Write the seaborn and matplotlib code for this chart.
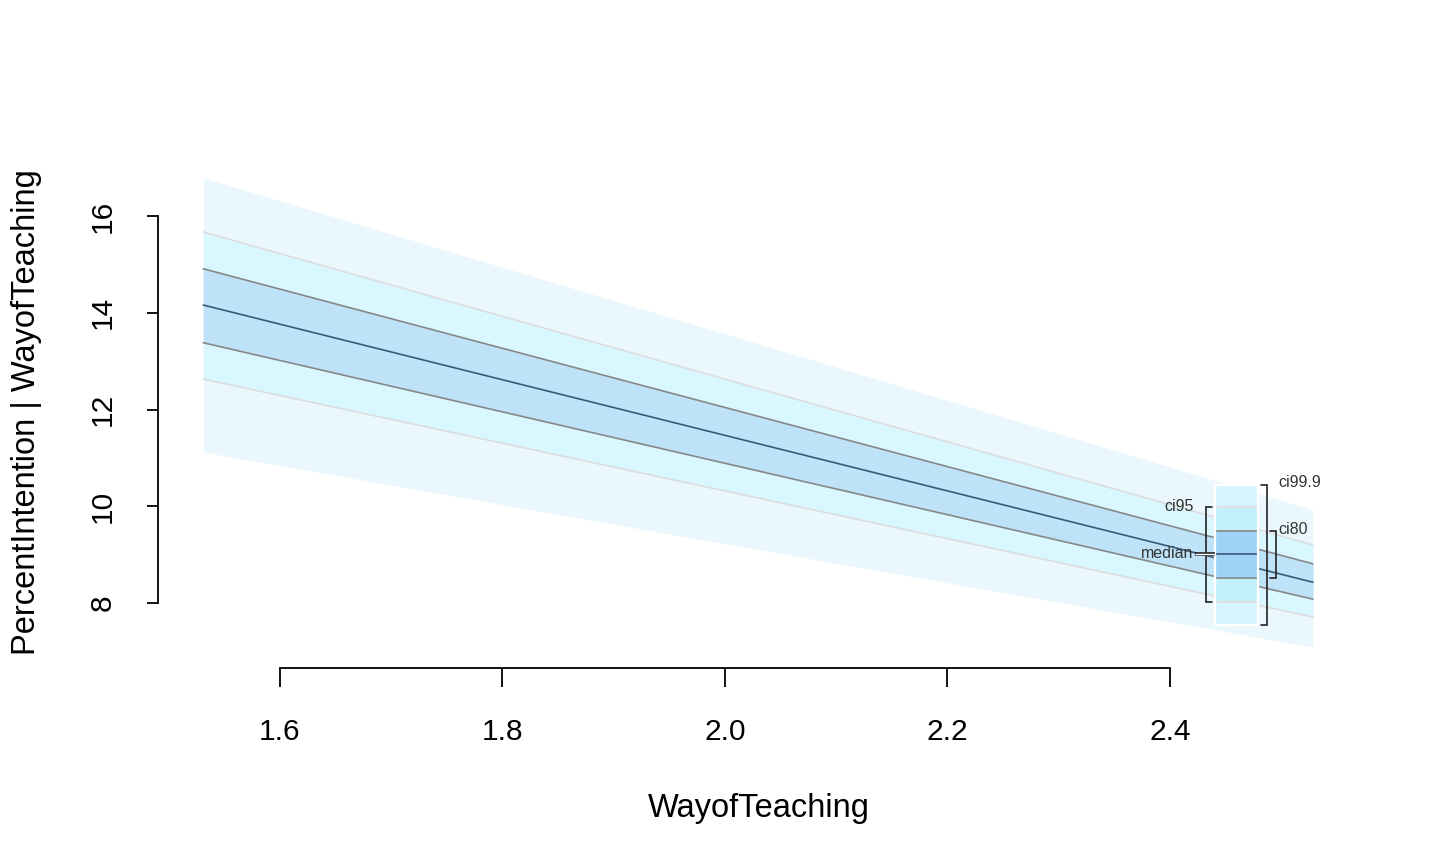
import numpy as np
import pandas as pd
import matplotlib
matplotlib.use('Agg')
import matplotlib.pyplot as plt
import seaborn as sns

# Conditional prediction: PercentIntention | WayofTeaching
way_of_teaching = [1.531, 2.5285]
median = [14.16, 8.43]
ci80_lo = [13.38, 8.08]
ci80_hi = [14.91, 8.81]
ci95_lo = [12.63, 7.71]
ci95_hi = [15.67, 9.20]
ci999_lo = [11.12, 7.09]
ci999_hi = [16.79, 9.93]

x_ticks = [1.6, 1.8, 2.0, 2.2, 2.4]
y_ticks = [8, 10, 12, 14, 16]

# legend glyph quantiles (drawn as a little box near the right edge)
leg_vals = {'ci999': (7.55, 10.44), 'ci95': (8.02, 9.98), 'ci80': (8.52, 9.49), 'median': 9.02}

df = pd.DataFrame({'x': way_of_teaching, 'median': median,
                   'lo80': ci80_lo, 'hi80': ci80_hi,
                   'lo95': ci95_lo, 'hi95': ci95_hi,
                   'lo999': ci999_lo, 'hi999': ci999_hi})

sns.set_style('white')
plt.rcParams['font.family'] = ['Liberation Sans', 'DejaVu Sans']

# colours
c999 = '#eaf8fe'
c95 = '#d8f7ff'
c80 = '#bee2f8'
line95 = '#dddddd'
line80 = '#888888'
line_med = '#38597a'

fig = plt.figure(figsize=(14.4, 8.64), dpi=100)
ax = fig.add_axes([158 / 1440, 196 / 864, 1172 / 1440, 498 / 864])

# bands
ax.fill_between(df['x'], df['lo999'], df['hi999'], color=c999, lw=0)
ax.fill_between(df['x'], df['lo95'], df['hi95'], color=c95, lw=0)
ax.fill_between(df['x'], df['lo80'], df['hi80'], color=c80, lw=0)

# band edges + median
for col, colr in [('lo95', line95), ('hi95', line95), ('lo80', line80), ('hi80', line80), ('median', line_med)]:
    sns.lineplot(data=df, x='x', y=col, ax=ax, color=colr, lw=1.2)

# legend glyph
bx0, bx1 = 2.4404, 2.4791
lo, hi = leg_vals['ci999']
ax.fill_between([bx0, bx1], lo, hi, color='#d6f4fd', lw=0, zorder=5)
lo, hi = leg_vals['ci95']
ax.fill_between([bx0, bx1], lo, hi, color='#c2f1fc', lw=0, zorder=5)
lo, hi = leg_vals['ci80']
ax.fill_between([bx0, bx1], lo, hi, color='#9fd3f5', lw=0, zorder=5)
for v in leg_vals['ci95']:
    ax.plot([bx0, bx1], [v, v], color=line95, lw=1.2, zorder=6)
for v in leg_vals['ci80']:
    ax.plot([bx0, bx1], [v, v], color=line80, lw=1.2, zorder=6)
ax.plot([bx0, bx1], [leg_vals['median']] * 2, color=line_med, lw=1.2, zorder=6)
lo, hi = leg_vals['ci999']
ax.add_patch(plt.Rectangle((bx0, lo), bx1 - bx0, hi - lo, fill=False, ec='white', lw=1.6, zorder=7))

# brackets
bc = '#222222'
def bracket(x, arm, lo, hi):
    ax.plot([x + arm, x, x, x + arm], [lo, lo, hi, hi], color=bc, lw=1.2, zorder=7, solid_joinstyle='miter')

lo, hi = leg_vals['ci95']
bracket(2.4324, 0.0055, lo, hi)
lo, hi = leg_vals['ci999']
bracket(2.4872, -0.0055, lo, hi)
lo, hi = leg_vals['ci80']
bracket(2.4953, -0.0055, lo, hi)

# median pointer
ax.plot([2.4228, bx0], [leg_vals['median']] * 2, color=bc, lw=2.6, zorder=7, solid_capstyle='butt')
ax.plot([2.4228, bx0], [leg_vals['median']] * 2, color='white', lw=1.0, zorder=8, solid_capstyle='butt')

tc = '#333333'
fs_leg = 11.5
ax.text(2.4210, leg_vals['ci95'][1] + 0.02, 'ci95', ha='right', va='center', fontsize=fs_leg, color=tc, zorder=8)
ax.text(2.4210, leg_vals['median'], 'median', ha='right', va='center', fontsize=fs_leg, color=tc, zorder=8)
ax.text(2.4975, leg_vals['ci999'][1] + 0.05, 'ci99.9', ha='left', va='center', fontsize=fs_leg, color=tc, zorder=8)
ax.text(2.4975, leg_vals['ci80'][1] + 0.02, 'ci80', ha='left', va='center', fontsize=fs_leg, color=tc, zorder=8)

# axes in base-R style
ax.set_xlim(1.6 - 122 / 1112.5, 1.6 + 1050 / 1112.5)
ax.set_ylim(8 - 65 / 48.375, 16 + 46 / 48.375)
for s in ['top', 'right']:
    ax.spines[s].set_visible(False)
ax.spines['left'].set_bounds(8, 16)
ax.spines['bottom'].set_bounds(1.6, 2.4)
for s in ['left', 'bottom']:
    ax.spines[s].set_color('black')
    ax.spines[s].set_linewidth(1.3)
ax.set_xticks(x_ticks)
ax.set_xticklabels([f'{v:.1f}' for v in x_ticks])
ax.set_yticks(y_ticks)
ax.set_yticklabels([str(v) for v in y_ticks], rotation=90, va='center')
ax.tick_params(axis='x', direction='out', length=14, width=1.3, pad=22, labelsize=21.5, colors='black', bottom=True)
ax.tick_params(axis='y', direction='out', length=8, width=1.3, pad=22, labelsize=21.5, colors='black', left=True)
ax.set_xlabel('WayofTeaching', fontsize=23.5, color='black')
ax.set_ylabel('PercentIntention | WayofTeaching', fontsize=23.5, color='black')
ax.xaxis.set_label_coords((759 - 158) / 1172, (668 - 793) / 498)
ax.yaxis.set_label_coords((42 - 158) / 1172, (668 - 412) / 498)
ax.grid(False)

fig.savefig('out.png', dpi=100)
